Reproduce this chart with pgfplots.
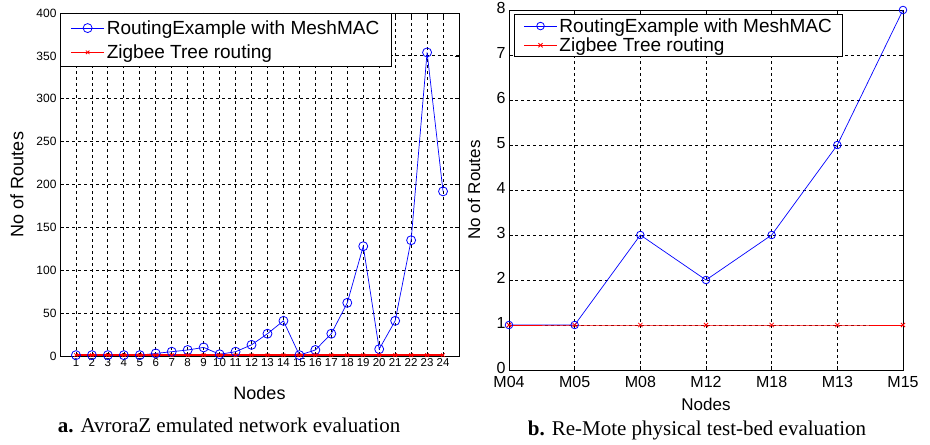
\documentclass[border=0pt]{standalone}
\usepackage{fontspec}
\setmainfont{Liberation Serif}
\newfontfamily\arial{Liberation Sans}
\usepackage{pgfplots}
\pgfplotsset{compat=1.18}
\definecolor{mblue}{RGB}{0,0,255}
\definecolor{mred}{RGB}{255,0,0}

\pgfplotsset{
  matlab/.style={
    scale only axis,
    axis line style={black, line width=0.9bp},
    tick align=inside, major tick length=4bp,
    tick style={black, line width=0.6bp},
    grid=major,
    grid style={black, line width=0.8bp, dash pattern=on 3bp off 3bp},
    /pgf/number format/assume math mode=true,
    /pgf/number format/1000 sep={},
    legend cell align=left,
    legend image code/.code={
      \draw[##1, mark repeat=2, mark phase=2]
        plot coordinates {(0bp,0bp) (16.5bp,0bp) (33bp,0bp)};},
    blueser/.style={mblue, line width=0.7bp, mark=o, mark size=4.5bp,
      mark options={line width=0.8bp}},
    redser/.style={mred, line width=1.4bp, mark=x, mark size=2.5bp,
      mark options={line width=0.8bp}},
  }
}

\begin{document}
\begin{tikzpicture}
\path[use as bounding box] (0bp,0bp) rectangle (930bp,445bp);

% left: AvroraZ emulation
\begin{axis}[matlab,
  at={(60bp,89bp)}, anchor=south west,
  width=399bp, height=343bp,
  xmin=0, xmax=25, ymin=0, ymax=400,
  xtick={1,...,24}, ytick={0,50,...,400},
  xticklabel style={font=\arial\fontsize{11.5bp}{13bp}\selectfont, inner xsep=0pt, yshift=1bp},
  yticklabel style={font=\arial\fontsize{12bp}{14bp}\selectfont},
  xlabel={Nodes}, ylabel={No of Routes},
  xlabel style={font=\arial\fontsize{18bp}{20bp}\selectfont,
    at={(axis description cs:0.5,-0.108)}, anchor=center},
  ylabel style={font=\arial\fontsize{18bp}{20bp}\selectfont,
    at={(axis description cs:-0.108,0.5)}, anchor=center},
  legend style={at={(axis description cs:0,1)}, anchor=north west,
    draw=black, line width=0.9bp, fill=white,
    font=\arial\fontsize{19bp}{21bp}\selectfont,
    inner xsep=10bp, inner ysep=5bp, row sep=5bp},
]
\addplot[blueser] coordinates {
  (1,1) (2,1) (3,1) (4,1) (5,1) (6,3) (7,5) (8,7) (9,10) (10,2)
  (11,5) (12,13) (13,26) (14,41) (15,1) (16,7) (17,26) (18,62)
  (19,128) (20,8) (21,41) (22,135) (23,354) (24,192)
};
\addplot[redser] coordinates {
  (1,1) (2,1) (3,1) (4,1) (5,1) (6,1) (7,1) (8,1) (9,1) (10,1)
  (11,1) (12,1) (13,1) (14,1) (15,1) (16,1) (17,1) (18,1)
  (19,1) (20,1) (21,1) (22,1) (23,1) (24,1)
};
\legend{RoutingExample with MeshMAC, Zigbee Tree routing}
\end{axis}

% right: Re-Mote test-bed
\begin{axis}[matlab,
  at={(509bp,75bp)}, anchor=south west,
  width=394bp, height=360bp,
  xmin=1, xmax=7, ymin=0, ymax=8,
  xtick={1,...,7}, xticklabels={M04,M05,M08,M12,M18,M13,M15},
  ytick={0,1,...,8},
  xticklabel style={font=\arial\fontsize{16bp}{18bp}\selectfont, yshift=-3bp},
  yticklabel style={font=\arial\fontsize{16bp}{18bp}\selectfont, yshift=2bp},
  xlabel={Nodes}, ylabel={No of Routes},
  xlabel style={font=\arial\fontsize{17bp}{19bp}\selectfont,
    at={(axis description cs:0.5,-0.097)}, anchor=center},
  ylabel style={font=\arial\fontsize{17bp}{19bp}\selectfont,
    at={(axis description cs:-0.089,0.5)}, anchor=center},
  legend style={at={(axis description cs:0.013,0.989)}, anchor=north west,
    draw=black, line width=0.9bp, fill=white,
    font=\arial\fontsize{19bp}{21bp}\selectfont,
    inner xsep=9bp, inner ysep=2bp, row sep=0bp},
]
\addplot[blueser, mark size=3.8bp] coordinates {
  (1,1) (2,1) (3,3) (4,2) (5,3) (6,5) (7,8)
};
\addplot[redser, line width=0.9bp, mark size=3bp] coordinates {
  (1,1) (2,1) (3,1) (4,1) (5,1) (6,1) (7,1)
};
\legend{RoutingExample with MeshMAC, Zigbee Tree routing}
\end{axis}

\node[font=\fontsize{21bp}{24bp}\selectfont] at (229bp,20bp)
  {\textbf{a.} AvroraZ emulated network evaluation};
\node[font=\fontsize{21bp}{24bp}\selectfont] at (697bp,15bp)
  {\textbf{b.} Re-Mote physical test-bed evaluation};
\end{tikzpicture}
\end{document}
